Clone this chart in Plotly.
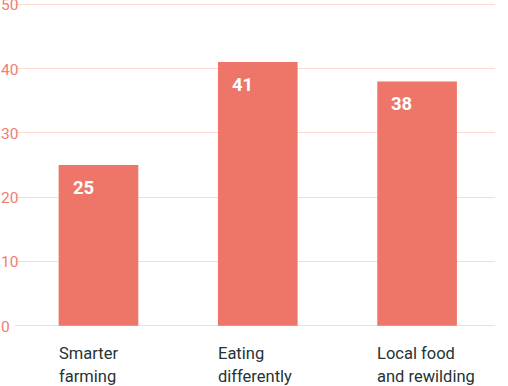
import plotly.graph_objects as go

categories = ["Smarter farming", "Eating differently", "Local food and rewilding"]
label_lines = [["Smarter", "farming"], ["Eating", "differently"], ["Local food", "and rewilding"]]
values = [25, 41, 38]
y_ticks = [0, 10, 20, 30, 40, 50]

BAR = "#EE7669"
GRID = "#FBD9D6"
TICK = "#F07D71"
DARK = "#243334"
FONT = "Roboto"

x = list(range(len(categories)))
fig = go.Figure(go.Bar(x=x, y=values, marker=dict(color=BAR, line=dict(width=0)),
                       width=0.5, hoverinfo="skip"))

ann = []
for i, v in enumerate(values):
    ann.append(dict(x=i - 0.25, y=v, xref="x", yref="y", text=str(v), showarrow=False,
                    xanchor="left", yanchor="middle", xshift=12, yshift=-23,
                    font=dict(family=FONT, size=18.5, color="white", weight="bold")))
    for j, line in enumerate(label_lines[i]):
        ann.append(dict(x=i - 0.25, y=0, xref="x", yref="y", text=line, showarrow=False,
                        xanchor="left", yanchor="middle", xshift=-2, yshift=-28 - 23 * j,
                        font=dict(family=FONT, size=16.5, color=DARK)))
for t in y_ticks:
    ann.append(dict(x=0, y=t, xref="paper", yref="y", text=str(t), showarrow=False,
                    xanchor="left", yanchor="middle", xshift=-16, yshift=-1,
                    font=dict(family=FONT, size=15.5, color=TICK)))

fig.update_layout(
    width=508, height=386,
    margin=dict(l=15, r=13, t=1, b=57, autoexpand=False),
    paper_bgcolor="white", plot_bgcolor="white",
    showlegend=False,
    xaxis=dict(range=[-0.524, 2.489], showticklabels=False, showgrid=False,
               zeroline=False, showline=False, fixedrange=True),
    yaxis=dict(range=[-0.5, 50.5], tickvals=y_ticks, showticklabels=False, showgrid=True,
               gridcolor=GRID, gridwidth=1, zeroline=True, zerolinecolor=GRID,
               zerolinewidth=1, showline=False, fixedrange=True),
    annotations=ann,
)
fig.write_html("out.html", config={"displayModeBar": False},
               post_script="document.body.style.margin='0';document.body.style.overflow='hidden';")
